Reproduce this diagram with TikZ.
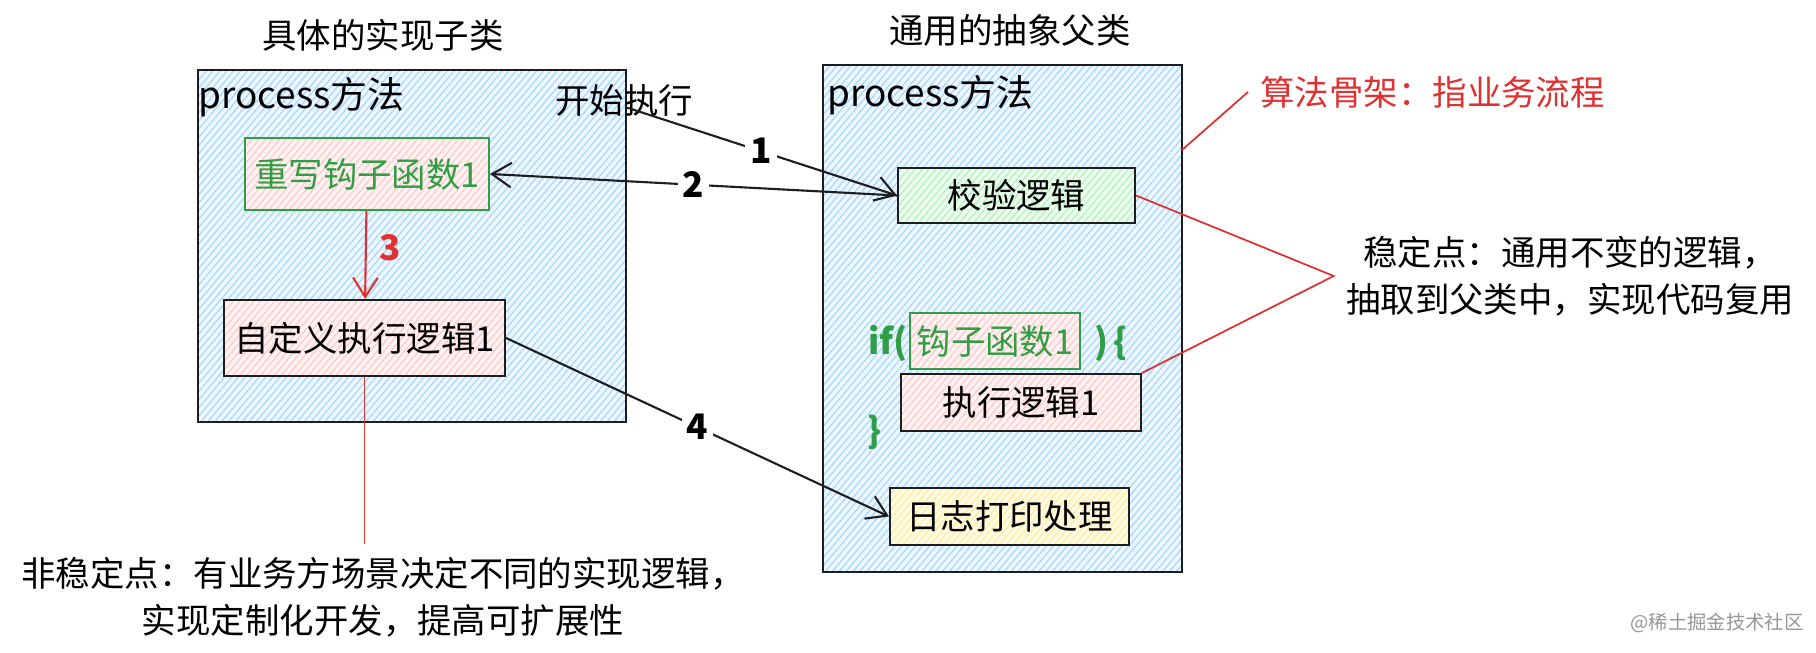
\documentclass[tikz,border=0pt]{standalone}
\usepackage{fontspec}
\setmainfont{Noto Sans CJK SC}
\usepackage{xcolor}
\usepackage{tikz}
\usetikzlibrary{arrows.meta,patterns.meta,calc}
\definecolor{figink}{RGB}{30,30,30}
\definecolor{figsky}{RGB}{165,216,255}
\definecolor{figskybg}{RGB}{238,246,255}
\definecolor{figrose}{RGB}{255,201,201}
\definecolor{figmint}{RGB}{178,242,187}
\definecolor{figsand}{RGB}{255,236,153}
\definecolor{figgreen}{RGB}{47,158,68}
\definecolor{figred}{RGB}{224,49,49}
\definecolor{figmark}{RGB}{150,150,150}
\tikzset{
  hatch/.style ={pattern={Lines[angle=50,distance=1.5pt,line width=0.35pt]}, pattern color=#1},
  cls/.style   ={draw=figink, line width=0.8pt, inner sep=0pt, preaction={fill=figskybg}, hatch=figsky},
  blk/.style   ={draw=figink, line width=0.6pt, inner sep=0pt, preaction={fill=#1!25}, hatch=#1,
                 font=\fontsize{9.8}{12}\selectfont},
  txt/.style   ={font=\fontsize{9.8}{12}\selectfont, inner sep=1pt},
  ttl/.style   ={font=\fontsize{9.8}{12}\selectfont, inner sep=1pt},
  code/.style  ={font=\fontsize{10}{12}\selectfont\bfseries, text=figgreen, inner sep=1pt},
  num/.style   ={font=\fontsize{10}{12}\selectfont\bfseries, fill=white, inner sep=1.5pt},
  note/.style  ={font=\fontsize{9.8}{13.5}\selectfont},
  ptr/.style   ={draw=figink, line width=0.6pt, -{Straight Barb[length=5.5pt,width=7pt]}},
  rptr/.style  ={draw=figred, line width=0.6pt, -{Straight Barb[length=5.5pt,width=7pt]}},
  rln/.style   ={draw=figred, line width=0.5pt},
}
\begin{document}
\begin{tikzpicture}
  \useasboundingbox (0,0) rectangle (18.16,6.53);
  % the two classes
  \node[cls, minimum width=4.28cm, minimum height=3.52cm] (sub) at (4.12,4.07) {};
  \node[cls, minimum width=3.59cm, minimum height=5.07cm] (par) at (10.025,3.345) {};
  \node[ttl] (subttl) at (3.83,6.18) {具体的实现子类};
  \node[ttl] (parttl) at (10.10,6.23) {通用的抽象父类};
  \node[txt, anchor=west, inner sep=0pt] (subproc) at (1.98,5.56) {\fontsize{10.5}{12}\selectfont process方法};
  \node[txt, anchor=west, inner sep=0pt] (parproc) at (8.27,5.58) {\fontsize{10.5}{12}\selectfont process方法};
  \node[txt] (start) at (6.24,5.53) {开始执行};
  % subclass steps
  \node[blk=figrose, draw=figgreen, text=figgreen, minimum width=2.44cm, minimum height=0.72cm] (hook) at (3.67,4.79) {重写钩子函数1};
  \node[blk=figrose, minimum width=2.81cm, minimum height=0.76cm] (custom) at (3.645,3.15) {自定义执行逻辑1};
  % parent steps
  \node[blk=figmint, minimum width=2.37cm, minimum height=0.55cm] (check) at (10.165,4.575) {校验逻辑};
  \node[blk=figrose, draw=figgreen, text=figgreen, minimum width=1.70cm, minimum height=0.56cm] (cond) at (9.95,3.12) {钩子函数1};
  \node[code] (ifopen) at (8.88,3.10) {if(};
  \node[code] (ifbrace) at (11.11,3.10) {)\,\{};
  \node[blk=figrose, minimum width=2.40cm, minimum height=0.57cm] (exec) at (10.21,2.505) {执行逻辑1};
  \node[code] (ifclose) at (8.75,2.21) {\}};
  \node[blk=figsand, minimum width=2.39cm, minimum height=0.57cm] (log) at (10.095,1.365) {日志打印处理};
  % call order
  \coordinate (go) at (6.25,5.46);
  \draw[ptr] (go) -- node[num] (n1) {1} (check.west);
  \draw[ptr] (check.west) -- node[num] (n2) {2} (hook.east);
  \draw[rptr] (hook) -- (custom);
  \node[num, fill=none, text=figred] (n3) at (3.90,4.05) {3};
  \draw[ptr] (custom.east) -- node[num] (n4) {4} (log.west);
  % notes
  \node[note, text=figred, anchor=west] (algo) at (12.48,5.61) {算法骨架：指业务流程};
  \coordinate (skel) at (11.82,5.03);
  \draw[rln] (skel) -- (algo.west);
  \node[note, align=center] (stable) at (15.70,3.77) {稳定点：通用不变的逻辑，\\抽取到父类中，实现代码复用};
  \draw[rln] (check.east) -- (stable.west) -- (exec.north east);
  \node[note, align=center] (unstable) at (3.83,0.56) {非稳定点：有业务方场景决定不同的实现逻辑，\\实现定制化开发，提高可扩展性};
  \draw[rln] (custom.south) -- (custom.south |- unstable.north);
  \node[font=\fontsize{5.5}{7}\selectfont, text=figmark] (wm) at (17.17,0.30) {@稀土掘金技术社区};
\end{tikzpicture}
\end{document}
